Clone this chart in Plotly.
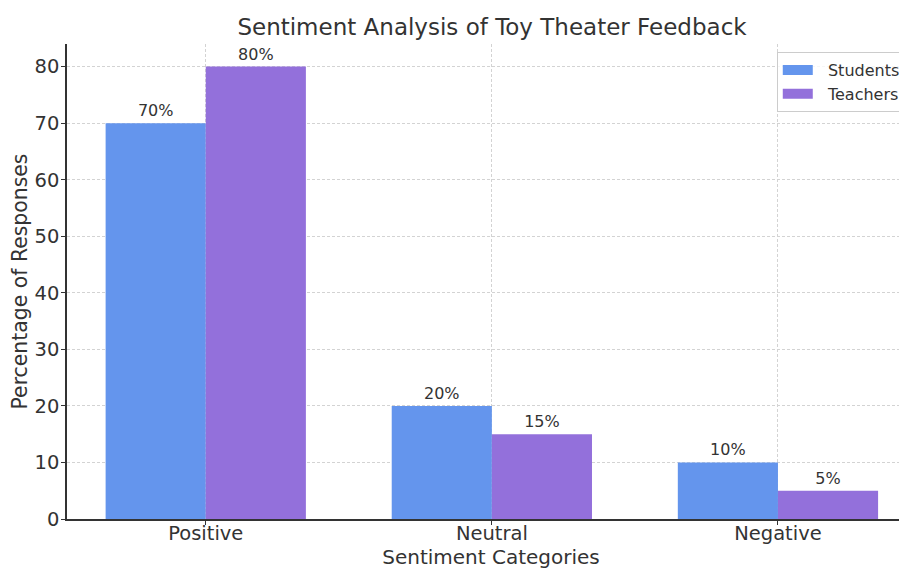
import plotly.graph_objects as go

categories = ["Positive", "Neutral", "Negative"]
students = [70, 20, 10]
teachers = [80, 15, 5]
series_names = ["Students", "Teachers"]
y_ticks = [0, 10, 20, 30, 40, 50, 60, 70, 80]

xpos = list(range(len(categories)))
W = 0.35
txt = "#333333"
font = "DejaVu Sans"
colors = ["#6495ED", "#9370DB"]
PAD = "\u00a0\u00a0"

fig = go.Figure()
for name, vals, off, col in [(series_names[0], students, -W, colors[0]),
                             (series_names[1], teachers, 0, colors[1])]:
    fig.add_trace(go.Bar(
        x=xpos, y=vals, name=name, width=W, offset=off, showlegend=False,
        marker=dict(color=col, line=dict(width=0)),
        text=[f"{v}%" for v in vals], textposition="outside",
        textfont=dict(size=16, color=txt, family=font), cliponaxis=False,
    ))
    # legend proxy (wide rectangle patch like matplotlib)
    fig.add_trace(go.Scatter(
        x=[None], y=[None], mode="lines", name=PAD + name,
        line=dict(color=col, width=11), showlegend=True,
    ))

fig.update_layout(
    width=907, height=569,
    margin=dict(l=59, r=0, t=36, b=58, autoexpand=False),
    paper_bgcolor="white", plot_bgcolor="white",
    font=dict(family=font, color=txt),
    title=dict(text="Sentiment Analysis of Toy Theater Feedback", x=484 / 907,
               xanchor="center", y=1 - 19 / 569, yanchor="middle",
               font=dict(size=23, color=txt, family=font), automargin=False),
    uniformtext=dict(mode=False),
    legend=dict(x=0.837, y=0.983, xanchor="left", yanchor="top",
                bordercolor="#cccccc", borderwidth=1, bgcolor="rgba(255,255,255,0.8)",
                font=dict(size=16, color=txt, family=font), tracegroupgap=0,
                itemwidth=30),
    showlegend=True,
)
fig.update_xaxes(
    range=[-0.485, 2.479], tickmode="array", tickvals=xpos, ticktext=categories,
    tickfont=dict(size=19.5, color=txt), ticks="outside", ticklen=4, tickcolor=txt,
    ticklabelstandoff=-8,
    showline=True, linecolor=txt, linewidth=1.5, automargin=False,
    showgrid=True, gridcolor="#d3d3d3", griddash="3px,2px", gridwidth=0.8,
    layer="above traces",
    title=dict(text="Sentiment Categories", font=dict(size=20, color=txt), standoff=4),
    zeroline=False,
)
fig.update_yaxes(
    range=[0, 84], tickmode="array", tickvals=y_ticks,
    tickfont=dict(size=19.5, color=txt), ticks="outside", ticklen=4, tickcolor=txt,
    ticklabelstandoff=-2,
    showline=True, linecolor=txt, linewidth=1.5, automargin=False,
    showgrid=True, gridcolor="#d3d3d3", griddash="3px,2px", gridwidth=0.8,
    layer="above traces",
    title=dict(text="Percentage of Responses", font=dict(size=20.4, color=txt), standoff=8),
    zeroline=False,
)
fig.write_html("out.html")
